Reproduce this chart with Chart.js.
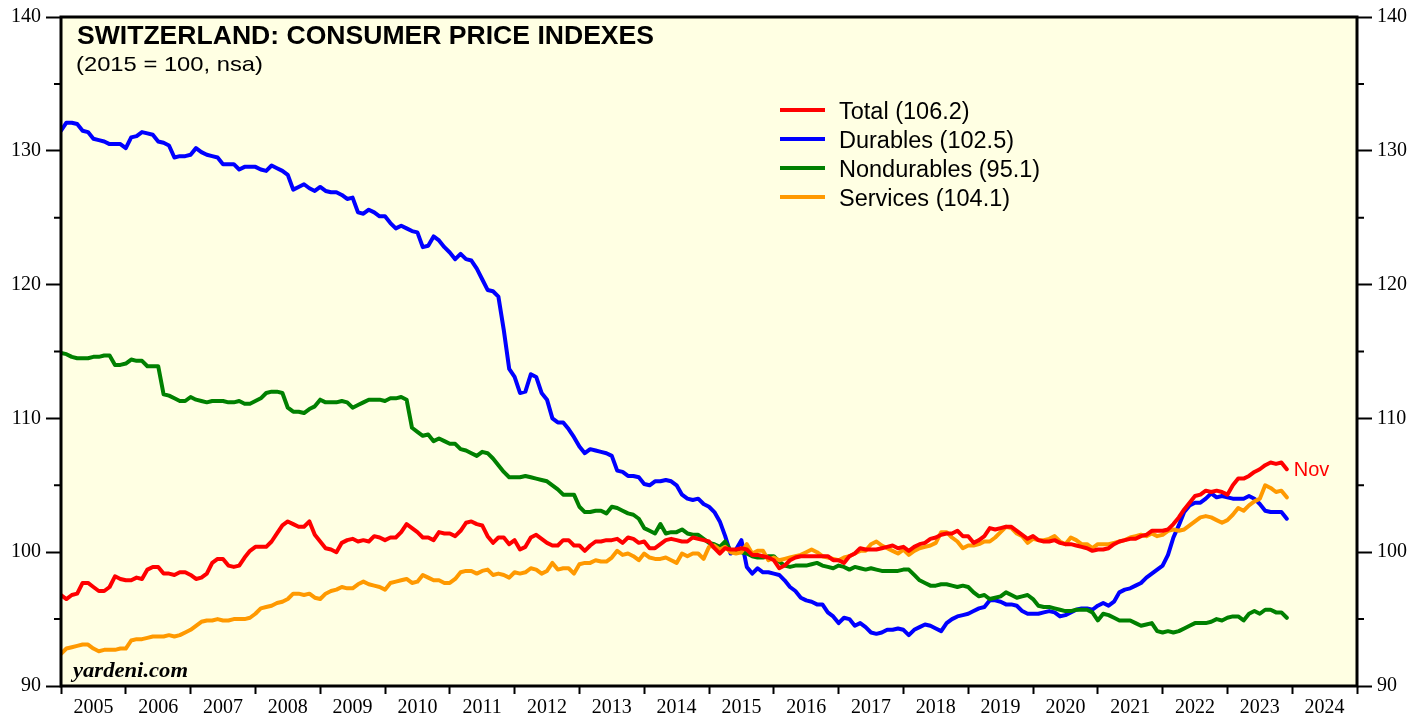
<!DOCTYPE html>
<html><head><meta charset="utf-8">
<script src="https://cdn.jsdelivr.net/npm/chart.js@4.4.1/dist/chart.umd.min.js"></script>
<style>html,body{margin:0;padding:0;background:#fff;}canvas{display:block;}</style>
</head><body>
<canvas id="c" width="1427" height="719"></canvas>
<script>
// Monthly index values, Dec 2004 .. Nov 2023 (each month plotted at its month end)
const firstYear = 2005;
const total = [
96.8,96.5,96.8,96.9,97.7,97.7,97.4,97.1,97.1,97.4,98.2,98.0,
97.9,97.9,98.1,98.0,98.7,98.9,98.9,98.4,98.4,98.3,98.5,98.5,
98.3,98.0,98.1,98.4,99.2,99.5,99.5,99.0,98.9,99.0,99.6,100.1,
100.4,100.4,100.4,100.8,101.4,102.0,102.3,102.1,101.9,101.9,102.3,101.3,
100.8,100.3,100.2,100.0,100.7,100.9,101.0,100.8,100.9,100.8,101.2,101.1,
100.9,101.1,101.1,101.5,102.1,101.8,101.5,101.1,101.1,100.9,101.5,101.4,
101.4,101.2,101.6,102.2,102.3,102.1,102.0,101.2,100.7,101.1,101.1,100.6,
100.9,100.2,100.4,101.1,101.3,101.0,100.7,100.5,100.5,100.9,100.9,100.5,
100.5,100.1,100.5,100.8,100.8,100.9,100.9,101.0,100.7,101.1,101.0,100.7,
100.8,100.3,100.3,100.6,100.9,101.0,100.9,100.8,100.8,101.1,101.0,100.9,
100.8,100.3,99.9,100.3,100.2,100.2,100.3,100.2,99.8,99.8,99.7,99.6,
99.4,98.8,99.0,99.4,99.6,99.7,99.7,99.7,99.7,99.7,99.7,99.4,
99.4,99.2,99.7,99.9,100.3,100.2,100.2,100.2,100.3,100.4,100.5,100.3,
100.4,100.1,100.4,100.6,100.7,101.0,101.1,101.3,101.4,101.4,101.6,101.2,
101.2,100.7,100.9,101.2,101.8,101.7,101.8,101.9,101.9,101.6,101.3,101.0,
101.2,100.9,100.8,100.8,100.9,100.7,100.6,100.6,100.5,100.4,100.3,100.1,
100.2,100.2,100.3,100.6,100.8,100.9,101.0,101.0,101.2,101.3,101.6,101.6,
101.6,101.7,102.1,102.6,103.2,103.7,104.2,104.3,104.6,104.5,104.6,104.5,
104.3,105.0,105.5,105.5,105.7,106.0,106.2,106.5,106.7,106.6,106.7,106.2];
const durables = [
131.5,132.1,132.1,132.0,131.5,131.4,130.9,130.8,130.7,130.5,130.5,130.5,
130.2,131.0,131.1,131.4,131.3,131.2,130.7,130.6,130.4,129.5,129.6,129.6,
129.7,130.2,129.9,129.7,129.6,129.5,129.0,129.0,129.0,128.6,128.8,128.8,
128.8,128.6,128.5,128.9,128.7,128.5,128.2,127.1,127.3,127.5,127.2,127.0,
127.3,127.0,126.9,126.9,126.7,126.4,126.5,125.4,125.3,125.6,125.4,125.1,
125.1,124.6,124.2,124.4,124.2,124.0,123.9,122.8,122.9,123.6,123.3,122.8,
122.4,121.9,122.3,121.9,121.8,121.2,120.4,119.6,119.5,119.1,116.6,113.7,
113.1,111.9,112.0,113.3,113.1,111.9,111.4,110.0,109.7,109.7,109.2,108.6,
107.9,107.4,107.7,107.6,107.5,107.4,107.2,106.1,106.0,105.7,105.7,105.6,
105.1,105.0,105.3,105.3,105.4,105.3,105.0,104.3,104.0,103.9,104.0,103.6,
103.4,103.0,102.3,101.2,99.9,100.2,100.9,98.9,98.4,98.8,98.5,98.5,
98.4,98.3,97.9,97.4,97.1,96.6,96.4,96.3,96.1,96.1,95.5,95.2,
94.7,95.1,95.0,94.5,94.7,94.4,94.0,93.9,94.0,94.2,94.2,94.3,
94.2,93.8,94.2,94.4,94.6,94.5,94.3,94.1,94.7,95.0,95.2,95.3,
95.4,95.6,95.8,95.9,96.4,96.4,96.3,96.1,96.1,96.0,95.6,95.4,
95.4,95.4,95.5,95.6,95.5,95.2,95.3,95.5,95.7,95.8,95.8,95.7,
96.0,96.2,96.0,96.3,97.0,97.2,97.3,97.5,97.7,98.1,98.4,98.7,
99.0,99.8,101.1,102.0,103.0,103.5,103.7,103.7,104.0,104.4,104.1,104.2,
104.1,104.0,104.0,104.0,104.2,104.0,103.6,103.1,103.0,103.0,103.0,102.5];
const nondurables = [
114.9,114.8,114.6,114.5,114.5,114.5,114.6,114.6,114.7,114.7,114.0,114.0,
114.1,114.4,114.3,114.3,113.9,113.9,113.9,111.8,111.7,111.5,111.3,111.3,
111.6,111.4,111.3,111.2,111.3,111.3,111.3,111.2,111.2,111.3,111.1,111.1,
111.3,111.5,111.9,112.0,112.0,111.9,110.8,110.5,110.5,110.4,110.7,110.9,
111.4,111.2,111.2,111.2,111.3,111.2,110.8,111.0,111.2,111.4,111.4,111.4,
111.3,111.5,111.5,111.6,111.4,109.3,109.0,108.7,108.8,108.3,108.5,108.3,
108.1,108.1,107.7,107.6,107.4,107.2,107.5,107.4,107.0,106.5,106.0,105.6,
105.6,105.6,105.7,105.6,105.5,105.4,105.3,105.0,104.7,104.3,104.3,104.3,
103.4,103.0,103.0,103.1,103.1,102.9,103.4,103.3,103.1,102.9,102.8,102.5,
101.8,101.6,101.4,102.1,101.4,101.5,101.5,101.7,101.4,101.3,101.3,101.0,
100.7,100.6,100.4,100.8,100.1,100.1,100.0,99.9,99.7,99.6,99.6,99.7,
99.7,99.3,99.0,98.9,99.0,99.0,99.0,99.1,99.2,99.0,98.9,98.8,
99.0,98.9,98.7,98.9,98.8,98.7,98.8,98.7,98.6,98.6,98.6,98.6,
98.7,98.7,98.3,97.9,97.7,97.5,97.5,97.6,97.6,97.5,97.4,97.5,
97.4,97.0,96.7,96.8,96.5,96.6,96.7,97.0,96.8,96.6,96.7,96.8,
96.5,96.0,95.9,95.9,95.8,95.7,95.6,95.6,95.7,95.7,95.7,95.5,
94.9,95.4,95.3,95.1,94.9,94.9,94.9,94.7,94.5,94.6,94.7,94.1,
94.0,94.1,94.0,94.1,94.3,94.5,94.7,94.7,94.7,94.8,95.0,94.9,
95.1,95.2,95.2,94.9,95.4,95.6,95.4,95.7,95.7,95.5,95.5,95.1];
const services = [
92.4,92.8,92.9,93.0,93.1,93.1,92.8,92.6,92.7,92.7,92.7,92.8,
92.8,93.4,93.5,93.5,93.6,93.7,93.7,93.7,93.8,93.7,93.8,94.0,
94.2,94.5,94.8,94.9,94.9,95.0,94.9,94.9,95.0,95.0,95.0,95.1,
95.4,95.8,95.9,96.0,96.2,96.3,96.5,96.9,96.9,96.8,96.9,96.6,
96.5,96.9,97.1,97.2,97.4,97.3,97.3,97.6,97.8,97.6,97.5,97.4,
97.2,97.7,97.8,97.9,98.0,97.7,97.8,98.3,98.1,97.9,97.9,97.7,
97.7,98.0,98.5,98.6,98.6,98.4,98.6,98.7,98.3,98.4,98.3,98.1,
98.5,98.4,98.5,98.8,98.7,98.4,98.6,99.2,98.7,98.8,98.8,98.4,
99.1,99.2,99.2,99.4,99.3,99.3,99.6,100.1,99.8,99.9,99.7,99.4,
99.9,99.6,99.5,99.5,99.6,99.4,99.2,99.9,99.7,99.9,99.9,99.5,
100.4,100.5,100.2,100.4,100.0,99.9,100.0,100.6,99.9,100.1,100.1,99.4,
99.6,99.4,99.5,99.6,99.7,99.8,100.0,100.2,100.0,99.7,99.6,99.5,
99.4,99.6,99.7,99.9,100.1,100.1,100.6,100.8,100.5,100.3,100.1,99.9,
100.2,99.8,100.1,100.3,100.4,100.5,100.7,101.5,101.5,101.1,100.8,100.3,
100.5,100.5,100.6,100.8,100.8,101.1,101.5,101.9,101.8,101.4,101.2,100.7,
101.0,100.9,100.9,101.0,101.2,100.8,100.6,101.1,100.9,100.6,100.6,100.3,
100.6,100.6,100.6,100.7,100.8,100.9,101.1,101.2,101.3,101.2,101.4,101.2,
101.3,101.6,101.7,101.6,101.7,102.0,102.3,102.6,102.7,102.6,102.4,102.2,
102.4,102.8,103.3,103.1,103.5,103.8,104.0,105.0,104.8,104.5,104.6,104.1];

const seriesNames = ['Total', 'Durables', 'Nondurables', 'Services'];
const seriesValues = [total, durables, nondurables, services];
const seriesColors = ['#FF0000', '#0000FF', '#008000', '#FF9900'];
const seriesOrder = [0, 3, 2, 1];
const yearLabels = [2005,2006,2007,2008,2009,2010,2011,2012,2013,2014,2015,2016,2017,2018,2019,2020,2021,2022,2023,2024];
const yTickValues = [90,100,110,120,130,140];
const titleText = 'SWITZERLAND: CONSUMER PRICE INDEXES';
const subtitleText = '(2015 = 100, nsa)';
const sourceText = 'yardeni.com';
const lastMonthLabel = 'Nov';

const toPoints = arr => arr.map((v, i) => ({x: firstYear + i / 12, y: v}));

const datasets = seriesNames.map((name, k) => ({
  label: name + ' (' + seriesValues[k][seriesValues[k].length - 1].toFixed(1) + ')',
  data: toPoints(seriesValues[k]),
  borderColor: seriesColors[k],
  backgroundColor: seriesColors[k],
  borderWidth: 4,
  pointRadius: 0,
  tension: 0,
  fill: false,
  borderJoinStyle: 'round',
  borderCapStyle: 'round',
  order: seriesOrder[k],
  yAxisID: 'y'
}));

function stretchedText(ctx, text, x, baseline, font, width, color) {
  ctx.save();
  ctx.font = font;
  ctx.fillStyle = color;
  ctx.textBaseline = 'alphabetic';
  ctx.textAlign = 'left';
  const w = ctx.measureText(text).width;
  ctx.translate(x, baseline);
  ctx.scale(width / w, 1);
  ctx.fillText(text, 0, 0);
  ctx.restore();
}

const bgPlugin = {
  id: 'bg',
  beforeDraw(chart) {
    const {ctx, chartArea: a} = chart;
    ctx.save();
    ctx.fillStyle = '#FFFFE3';
    ctx.fillRect(a.left, a.top, a.right - a.left, a.bottom - a.top);
    ctx.restore();
  }
};

const decorPlugin = {
  id: 'decor',
  afterDatasetsDraw(chart) {
    const {ctx, chartArea: a, scales} = chart;
    ctx.save();
    // frame
    ctx.strokeStyle = '#000';
    ctx.lineWidth = 3;
    ctx.strokeRect(a.left, a.top, a.right - a.left, a.bottom - a.top);
    // minor y ticks
    ctx.lineWidth = 2;
    for (let v = 95; v < 140; v += 10) {
      const y = scales.y.getPixelForValue(v);
      ctx.beginPath();
      ctx.moveTo(a.left - 7, y); ctx.lineTo(a.left, y);
      ctx.moveTo(a.right, y); ctx.lineTo(a.right + 7, y);
      ctx.stroke();
    }
    // title / subtitle
    stretchedText(ctx, titleText, 77, 44, 'bold 25px "Liberation Sans", Arial, sans-serif', 577, '#000');
    stretchedText(ctx, subtitleText, 76, 71, '21px "Liberation Sans", Arial, sans-serif', 187, '#000');
    // legend
    ctx.font = '23.5px "Liberation Sans", Arial, sans-serif';
    ctx.textBaseline = 'alphabetic';
    chart.data.datasets.forEach((ds, k) => {
      const y = 110 + k * 29;
      ctx.strokeStyle = ds.borderColor;
      ctx.lineWidth = 4;
      ctx.beginPath();
      ctx.moveTo(780, y); ctx.lineTo(825, y);
      ctx.stroke();
      ctx.fillStyle = '#000';
      ctx.fillText(ds.label, 839, y + 8.5);
    });
    // last month label
    const last = total.length - 1;
    const lx = scales.x.getPixelForValue(firstYear + last / 12);
    const ly = scales.y.getPixelForValue(total[last]);
    ctx.font = '20px "Liberation Sans", Arial, sans-serif';
    ctx.fillStyle = '#FF0000';
    ctx.fillText(lastMonthLabel, lx + 7, ly + 7);
    // source
    stretchedText(ctx, sourceText, 73, 677, 'bold italic 20px "Liberation Serif", "Times New Roman", serif', 115, '#000');
    ctx.restore();
  }
};

const tickFont = {family: '"Liberation Serif", "Times New Roman", serif', size: 20};

const yAxisCommon = {
  type: 'linear',
  min: 90, max: 140,
  border: {display: false},
  grid: {
    drawOnChartArea: false,
    drawTicks: true,
    tickLength: 15,
    tickWidth: 2,
    tickColor: c => (c.tick && yTickValues.includes(c.tick.value)) ? '#000' : 'rgba(0,0,0,0)'
  },
  ticks: {
    stepSize: 5,
    color: '#000',
    font: tickFont,
    padding: 5,
    callback: v => yTickValues.includes(v) ? String(v) : ''
  }
};

new Chart(document.getElementById('c'), {
  type: 'line',
  data: {datasets},
  plugins: [bgPlugin, decorPlugin],
  options: {
    responsive: false,
    devicePixelRatio: 1,
    animation: false,
    layout: {padding: {top: 14, left: 0, right: 0, bottom: 0}},
    plugins: {legend: {display: false}, title: {display: false}, tooltip: {enabled: false}},
    scales: {
      x: {
        type: 'linear',
        min: 2005, max: 2025,
        border: {display: false},
        grid: {
          drawOnChartArea: false,
          drawTicks: true,
          tickLength: 8,
          tickWidth: 2,
          tickColor: c => (c.tick && Number.isInteger(c.tick.value)) ? '#000' : 'rgba(0,0,0,0)'
        },
        afterBuildTicks: scale => {
          const t = [];
          yearLabels.forEach(y => { t.push({value: y}); t.push({value: y + 0.5}); });
          t.push({value: yearLabels[yearLabels.length - 1] + 1});
          scale.ticks = t;
        },
        afterFit: scale => { scale.height = 33; },
        ticks: {
          autoSkip: false,
          maxRotation: 0,
          color: '#000',
          font: tickFont,
          padding: 2,
          callback: v => Number.isInteger(v) ? '' : String(Math.floor(v))
        }
      },
      y: Object.assign({}, yAxisCommon, {position: 'left', afterFit: s => { s.width = 61; }}),
      y2: Object.assign({}, yAxisCommon, {position: 'right', afterFit: s => { s.width = 70; }})
    }
  }
});
</script>
</body></html>
